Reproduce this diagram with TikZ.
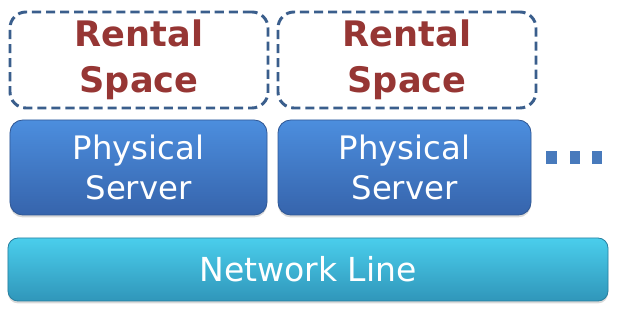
\documentclass[tikz,border=0pt]{standalone}
\usepackage{fontspec}
\setmainfont{DejaVu Sans}
\usetikzlibrary{shadows}

\definecolor{spaceline}{RGB}{58,94,140}
\definecolor{spacetext}{RGB}{150,54,52}
\definecolor{servertop}{RGB}{76,142,222}
\definecolor{serverbot}{RGB}{54,100,172}
\definecolor{serveredge}{RGB}{48,88,150}
\definecolor{nettop}{RGB}{74,206,236}
\definecolor{netbot}{RGB}{48,150,186}
\definecolor{netedge}{RGB}{40,128,160}
\definecolor{dotblue}{RGB}{72,122,188}

\tikzset{
  space/.style={draw=spaceline, line width=2.1pt, dash pattern=on 6.5pt off 3.5pt,
    rounded corners=0.4cm, align=center, text=spacetext,
    font=\fontsize{25}{32.5}\selectfont\bfseries},
  server/.style={draw=serveredge, line width=0.6pt, rounded corners=0.32cm,
    top color=servertop, bottom color=serverbot, text=white, align=center,
    font=\fontsize{23}{29}\selectfont,
    drop shadow={shadow xshift=0pt, shadow yshift=-0.06cm, opacity=0.3}},
  netline/.style={draw=netedge, line width=0.6pt, rounded corners=0.25cm,
    top color=nettop, bottom color=netbot, text=white,
    font=\fontsize{23.5}{28}\selectfont,
    drop shadow={shadow xshift=0pt, shadow yshift=-0.06cm, opacity=0.3}},
  more/.style={fill=dotblue, minimum width=0.27cm, minimum height=0.32cm, inner sep=0pt}
}

\begin{document}
\begin{tikzpicture}
  \useasboundingbox (0, 0) rectangle (15.7, 7.95);

  % rented spaces on top
  \node[space, minimum width=6.45cm, minimum height=2.4cm] (space1) at (3.475, 6.45) {Rental\\Space};
  \node[space, minimum width=6.45cm, minimum height=2.4cm] (space2) at (10.175, 6.45) {Rental\\Space};

  % servers
  \node[server, minimum width=6.425cm, minimum height=2.375cm] (server1) at (3.4625, 3.7625) {Physical\\Server};
  \node[server, minimum width=6.325cm, minimum height=2.375cm] (server2) at (10.1125, 3.7625) {Physical\\Server};

  % and so on
  \node[more] (dot1) at (13.79, 4.01) {};
  \node[more] (dot2) at (14.375, 4.01) {};
  \node[more] (dot3) at (14.925, 4.01) {};

  % network at the bottom
  \node[netline, minimum width=15cm, minimum height=1.575cm] (net) at (7.7, 1.2125) {Network Line};
\end{tikzpicture}
\end{document}
